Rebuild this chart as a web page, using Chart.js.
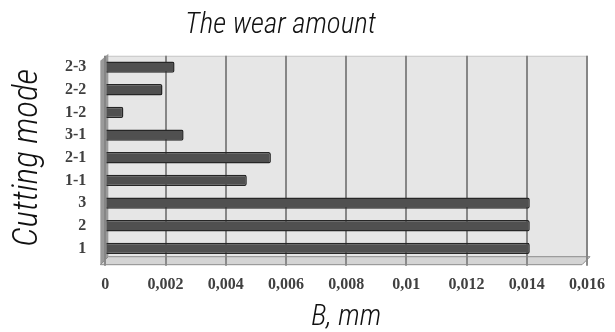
<!DOCTYPE html>
<html><head><meta charset="utf-8">
<script src="https://cdn.jsdelivr.net/npm/chart.js@4.4.1/dist/chart.umd.min.js"></script>
<style>html,body{margin:0;padding:0;background:#fff}#wrap{width:615px;height:332px}</style>
</head><body><div id="wrap"><canvas id="c" width="615" height="332"></canvas></div>
<script>
const categories = ['2-3','2-2','1-2','3-1','2-1','1-1','3','2','1'];
const wearValues = [0.0023,0.0019,0.0006,0.0026,0.0055,0.0047,0.0141,0.0141,0.0141];
const xTickLabels = ['0','0,002','0,004','0,006','0,008','0,01','0,012','0,014','0,016'];
const titleFont = "Roboto, 'DejaVu Sans', sans-serif";
const serifFont = "'Liberation Serif', 'DejaVu Serif', serif";

const wallPlugin = {
  id: 'wall',
  afterLayout(chart) {
    if (chart.titleBlock) { chart.titleBlock.left -= 44; }
  },
  beforeDraw(chart) {
    const {ctx, chartArea: a} = chart;
    ctx.save();
    ctx.fillStyle = '#e6e6e6';
    ctx.fillRect(a.left, a.top, a.right - a.left, a.bottom - a.top);
    ctx.strokeStyle = '#c8c8c8';
    ctx.lineWidth = 1;
    ctx.strokeRect(a.left + 0.5, a.top + 0.5, a.right - a.left, a.bottom - a.top);
    ctx.fillStyle = '#9a9a9a';
    ctx.beginPath();
    ctx.moveTo(a.left - 5, a.top + 5);
    ctx.lineTo(a.left + 3, a.top - 2);
    ctx.lineTo(a.left + 3, a.bottom - 3);
    ctx.lineTo(a.left - 5, a.bottom + 5);
    ctx.closePath();
    ctx.fill();
    ctx.fillStyle = '#d4d4d4';
    ctx.beginPath();
    ctx.moveTo(a.left - 5, a.bottom + 5);
    ctx.lineTo(a.left + 3, a.bottom - 3);
    ctx.lineTo(a.right + 3, a.bottom - 3);
    ctx.lineTo(a.right - 5, a.bottom + 5);
    ctx.closePath();
    ctx.fill();
    ctx.strokeStyle = '#8c8c8c';
    ctx.stroke();
    ctx.restore();
  }
};

new Chart(document.getElementById('c'), {
  type: 'bar',
  data: {
    labels: categories,
    datasets: [{
      data: wearValues,
      backgroundColor: '#505050',
      borderColor: '#262626',
      borderWidth: 1.5,
      borderRadius: 2,
      borderSkipped: 'start',
      categoryPercentage: 1,
      barPercentage: 0.5
    }]
  },
  options: {
    indexAxis: 'y',
    responsive: false,
    animation: false,
    layout: {padding: {top: 0, right: 10, bottom: 0, left: 0}},
    plugins: {
      legend: {display: false},
      tooltip: {enabled: false},
      title: {
        display: true,
        text: 'The wear amount',
        color: '#111',
        font: {family: titleFont, size: 29, style: 'italic', weight: 'condensed 300'},
        padding: {top: 8, bottom: 13}
      }
    },
    scales: {
      x: {
        min: 0, max: 0.016,
        ticks: {
          stepSize: 0.002,
          color: '#404040',
          font: {family: serifFont, size: 16, weight: 'bold'},
          padding: 10,
          callback: (v, i) => xTickLabels[i]
        },
        grid: {color: '#868686', lineWidth: 2, drawTicks: true, tickLength: 6, tickColor: '#8a8a8a'},
        border: {display: false},
        title: {
          display: true, text: 'B, mm', color: '#111',
          font: {family: titleFont, size: 29, style: 'italic', weight: 'condensed 300', lineHeight: 0.9},
          padding: {top: 0, bottom: 1}
        }
      },
      y: {
        ticks: {
          color: '#404040',
          font: {family: serifFont, size: 16, weight: 'bold'},
          padding: 19,
          autoSkip: false
        },
        grid: {display: false, drawTicks: false},
        border: {display: false},
        title: {
          display: true, text: 'Cutting mode', color: '#111',
          font: {family: titleFont, size: 35, style: 'italic', weight: 'condensed 300', lineHeight: 1.0},
          padding: {top: 11, bottom: 0}
        }
      }
    }
  },
  plugins: [wallPlugin]
});
</script></body></html>
